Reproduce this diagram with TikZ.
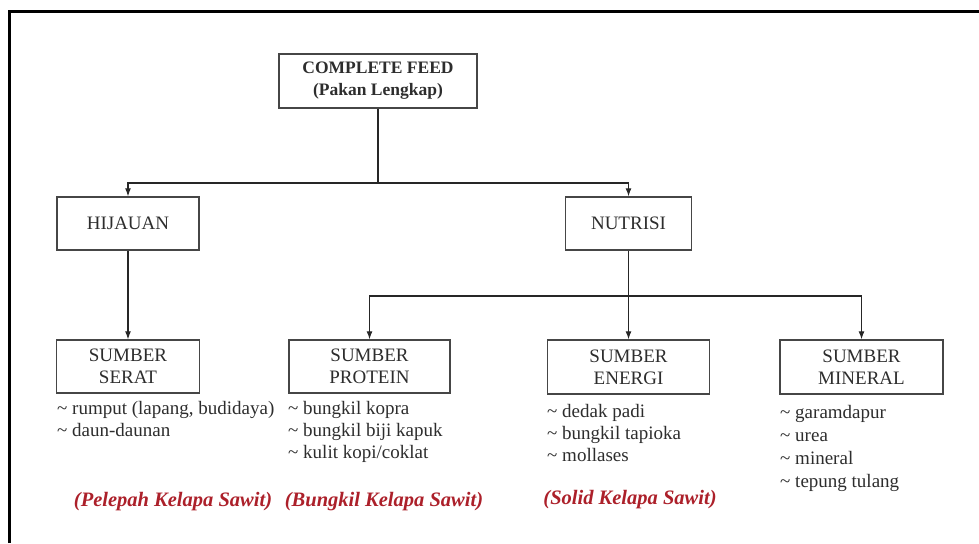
\documentclass[tikz,border=0pt]{standalone}
\usepackage{fontspec}
\setmainfont{Liberation Serif}
\usetikzlibrary{arrows.meta}
\definecolor{labred}{RGB}{172,32,42}
\definecolor{boxline}{RGB}{70,70,70}
\definecolor{txt}{RGB}{45,45,45}
\begin{document}
\begin{tikzpicture}[x=1pt,y=-1pt,
  boxnode/.style={draw=boxline,line width=1.4pt,rectangle,align=center,inner sep=0pt,
    text=txt,font=\fontsize{19}{22}\selectfont},
  listnode/.style={anchor=north west,align=left,inner sep=0pt,text=txt,
    font=\fontsize{19}{22.3}\selectfont},
  rednode/.style={inner sep=0pt,text=labred,font=\fontsize{20.5}{24}\selectfont\bfseries\itshape},
  conn/.style={draw=black!85,line width=1.1pt},
  arr/.style={conn,-{Latex[length=8pt,width=6pt]}}]
\useasboundingbox (0,0) rectangle (979,543);
% frame
\draw[line width=3pt,black] (9.5,543) -- (9.5,11.5) -- (979,11.5);
% nodes
\node[boxnode,minimum width=198pt,minimum height=54pt,font=\fontsize{17.5}{22}\selectfont\bfseries] (cf) at (378,81) {COMPLETE FEED\\(Pakan Lengkap)};
\node[boxnode,minimum width=142pt,minimum height=53pt] (hij) at (128,223.5) {HIJAUAN};
\node[boxnode,minimum width=126pt,minimum height=53pt] (nut) at (628.5,223.5) {NUTRISI};
\node[boxnode,minimum width=143pt,minimum height=53pt] (serat) at (128,366.5) {SUMBER\\SERAT};
\node[boxnode,minimum width=161pt,minimum height=53pt] (prot) at (369.5,366.5) {SUMBER\\PROTEIN};
\node[boxnode,minimum width=162pt,minimum height=54pt] (ener) at (628.5,367) {SUMBER\\ENERGI};
\node[boxnode,minimum width=163pt,minimum height=54pt] (miner) at (861.5,367) {SUMBER\\MINERAL};
% connectors
\coordinate (jA) at (378,183);
\coordinate (jB) at (628.5,296);
\draw[conn] (cf.south) -- (jA);
\draw[arr] (jA) -| (hij.north);
\draw[arr] (jA) -| (nut.north);
\draw[arr] (hij.south) -- (serat.north);
\draw[conn] (nut.south) -- (jB);
\draw[arr] (jB) -| (prot.north);
\draw[arr] (jB) -- (ener.north);
\draw[arr] (jB) -| (miner.north);
% lists
\node[listnode] (lserat) at (57,401) {\textasciitilde{} rumput (lapang, budidaya)\\\textasciitilde{} daun-daunan};
\node[listnode] (lprot) at (288,401) {\textasciitilde{} bungkil kopra\\\textasciitilde{} bungkil biji kapuk\\\textasciitilde{} kulit kopi/coklat};
\node[listnode] (lener) at (547,404) {\textasciitilde{} dedak padi\\\textasciitilde{} bungkil tapioka\\\textasciitilde{} mollases};
\node[listnode,font=\fontsize{19}{23}\selectfont] (lminer) at (780,405) {\textasciitilde{} garamdapur\\\textasciitilde{} urea\\\textasciitilde{} mineral\\\textasciitilde{} tepung tulang};
% red labels
\node[rednode] (rserat) at (173,502) {(Pelepah Kelapa Sawit)};
\node[rednode] (rprot) at (384,502) {(Bungkil Kelapa Sawit)};
\node[rednode] (rener) at (630,500) {(Solid Kelapa Sawit)};
\end{tikzpicture}
\end{document}
